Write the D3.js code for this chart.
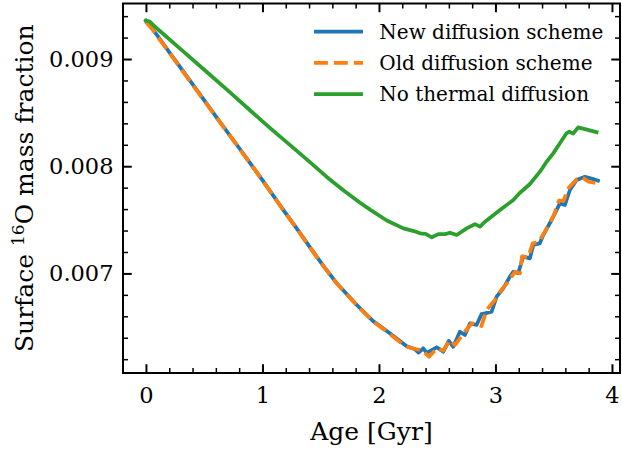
<!DOCTYPE html>
<html>
<head>
<meta charset="utf-8">
<script src="https://cdn.jsdelivr.net/npm/d3@7"></script>
<style>
  html, body { margin: 0; padding: 0; background: #fff; }
  svg { display: block; font-family: "DejaVu Serif", serif; }
</style>
</head>
<body>
<svg id="chart" width="622" height="449"></svg>
<script>
// Surface 16O mass fraction vs. stellar age for three diffusion treatments

const newAge = [0.00, 0.05, 0.20, 0.40, 0.60, 0.80, 1.00, 1.18, 1.30, 1.41, 1.52, 1.64, 1.81, 1.95,
  2.07, 2.18, 2.238, 2.31, 2.34, 2.38, 2.41, 2.496, 2.552, 2.60, 2.638, 2.695, 2.738, 2.781, 2.838,
  2.88, 2.91, 2.967, 3.01, 3.067, 3.124, 3.153, 3.195, 3.238, 3.296, 3.324, 3.38, 3.41, 3.482, 3.553,
  3.596, 3.639, 3.696, 3.768, 3.839, 3.88];
const newO16 = [0.009357, 0.009290, 0.009065, 0.008765, 0.008465, 0.008170, 0.007870, 0.007590,
  0.007410, 0.007240, 0.007075, 0.006905, 0.006705, 0.006555, 0.006460, 0.006370, 0.006320,
  0.006292, 0.006262, 0.006301, 0.006258, 0.006311, 0.006270, 0.006370, 0.006316, 0.006456,
  0.006425, 0.006534, 0.006519, 0.006620, 0.006627, 0.006643, 0.006783, 0.006861, 0.006970,
  0.007016, 0.007001, 0.007156, 0.007141, 0.007265, 0.007280, 0.007358, 0.007498, 0.007654,
  0.007638, 0.007778, 0.007871, 0.007902, 0.007880, 0.007865];

const oldAge = [0.00, 0.05, 0.20, 0.40, 0.60, 0.80, 1.00, 1.18, 1.30, 1.41, 1.52, 1.64, 1.81, 1.95,
  2.07, 2.18, 2.24, 2.31, 2.37, 2.43, 2.496, 2.552, 2.61, 2.652, 2.738, 2.795, 2.84, 2.88, 2.924,
  2.996, 3.039, 3.11, 3.167, 3.21, 3.228, 3.28, 3.32, 3.37, 3.44, 3.50, 3.545, 3.585, 3.63, 3.70,
  3.74, 3.78, 3.80, 3.87];
const oldO16 = [0.009345, 0.009285, 0.009060, 0.008760, 0.008462, 0.008168, 0.007868, 0.007588,
  0.007408, 0.007238, 0.007073, 0.006903, 0.006703, 0.006552, 0.006455, 0.006360, 0.006316,
  0.006295, 0.006282, 0.006223, 0.006301, 0.006280, 0.006379, 0.006332, 0.006456, 0.006534,
  0.006530, 0.006510, 0.006659, 0.006752, 0.006830, 0.006923, 0.007016, 0.007001, 0.007160,
  0.007150, 0.007280, 0.007290, 0.007420, 0.007540, 0.007680, 0.007680, 0.007800, 0.007880,
  0.007900, 0.007870, 0.007855, 0.007841];

const noAge = [0.00, 0.03, 0.10, 0.30, 0.50, 0.70, 0.90, 1.066, 1.25, 1.40, 1.552, 1.70, 1.838,
  1.924, 2.067, 2.21, 2.30, 2.352, 2.40, 2.453, 2.51, 2.567, 2.61, 2.667, 2.753, 2.824, 2.867,
  2.91, 3.039, 3.153, 3.21, 3.238, 3.296, 3.382, 3.439, 3.496, 3.553, 3.61, 3.633, 3.667, 3.71,
  3.868];
const noO16 = [0.009357, 0.009352, 0.009280, 0.009090, 0.008900, 0.008710, 0.008515, 0.008356,
  0.008185, 0.008045, 0.007900, 0.007772, 0.007660, 0.007595, 0.007494, 0.007420, 0.007395,
  0.007374, 0.007368, 0.007337, 0.007367, 0.007367, 0.007380, 0.007358, 0.007420, 0.007460,
  0.007436, 0.007482, 0.007591, 0.007685, 0.007753, 0.007778, 0.007834, 0.007949, 0.008042,
  0.008120, 0.008214, 0.008307, 0.008322, 0.008305, 0.008362, 0.008318];

const seriesLabels = ["New diffusion scheme", "Old diffusion scheme", "No thermal diffusion"];
const seriesColors = ["#1f77b4", "#ff7f0e", "#2ca02c"];

const xMajor = [0, 1, 2, 3, 4];
const yMajor = [0.007, 0.008, 0.009];

// ---- layout ----
const W = 622, H = 449;
const plot = { left: 123, right: 620, top: 3.5, bottom: 373 };
const xDomain = [-0.197, 4.069];
const yDomain = [0.006071, 0.009518];

const svg = d3.select("#chart");

const x = d3.scaleLinear().domain(xDomain).range([plot.left, plot.right]);
const y = d3.scaleLinear().domain(yDomain).range([plot.bottom, plot.top]);

const xMinor = d3.range(0, 4.0001, 0.2).map(v => +v.toFixed(1))
  .filter(v => !xMajor.includes(v) && v > xDomain[0] && v < xDomain[1]);
const yMinor = d3.range(0.0060, 0.0097, 0.0002).map(v => +v.toFixed(4))
  .filter(v => !yMajor.some(m => Math.abs(m - v) < 1e-9) && v > yDomain[0] && v < yDomain[1]);

const MAJ = 8.75, MIN = 5;

// clip lines to the axes box
svg.append("defs").append("clipPath").attr("id", "clip")
  .append("rect")
  .attr("x", plot.left).attr("y", plot.top)
  .attr("width", plot.right - plot.left).attr("height", plot.bottom - plot.top);

// ---- data lines ----
const line = d3.line().x(d => x(d[0])).y(d => y(d[1]));
const series = [
  { age: newAge, val: newO16, dash: null },
  { age: oldAge, val: oldO16, dash: "13.9,6" },
  { age: noAge, val: noO16, dash: null }
];
const lines = svg.append("g").attr("clip-path", "url(#clip)");
series.forEach((s, i) => {
  lines.append("path")
    .datum(d3.zip(s.age, s.val))
    .attr("d", line)
    .attr("fill", "none")
    .attr("stroke", seriesColors[i])
    .attr("stroke-width", 3.75)
    .attr("stroke-linejoin", "round")
    .attr("stroke-linecap", s.dash ? "butt" : "square")
    .attr("stroke-dasharray", s.dash);
});

// ---- axes (ticks point inward on all four sides) ----
function styleAxis(g, width) {
  g.select(".domain").remove();
  g.selectAll(".tick line").attr("stroke", "#000").attr("stroke-width", width);
}
const fontTick = 22.5;

// bottom
const gxb = svg.append("g").attr("transform", `translate(0,${plot.bottom})`)
  .call(d3.axisBottom(x).tickValues(xMajor).tickSize(-MAJ).tickPadding(14).tickFormat(d3.format("d")));
styleAxis(gxb, 2);
gxb.selectAll("text").attr("font-size", fontTick).attr("fill", "#000")
  .attr("font-family", "DejaVu Serif, serif");
svg.append("g").attr("transform", `translate(0,${plot.bottom})`)
  .call(d3.axisBottom(x).tickValues(xMinor).tickSize(-MIN).tickFormat(""))
  .call(g => styleAxis(g, 1.5));

// top
svg.append("g").attr("transform", `translate(0,${plot.top})`)
  .call(d3.axisTop(x).tickValues(xMajor).tickSize(-MAJ).tickFormat(""))
  .call(g => styleAxis(g, 2));
svg.append("g").attr("transform", `translate(0,${plot.top})`)
  .call(d3.axisTop(x).tickValues(xMinor).tickSize(-MIN).tickFormat(""))
  .call(g => styleAxis(g, 1.5));

// left
const gyl = svg.append("g").attr("transform", `translate(${plot.left},0)`)
  .call(d3.axisLeft(y).tickValues(yMajor).tickSize(-MAJ).tickPadding(9.5).tickFormat(d3.format(".3f")));
styleAxis(gyl, 2);
gyl.selectAll("text").attr("font-size", fontTick).attr("fill", "#000")
  .attr("font-family", "DejaVu Serif, serif");
svg.append("g").attr("transform", `translate(${plot.left},0)`)
  .call(d3.axisLeft(y).tickValues(yMinor).tickSize(-MIN).tickFormat(""))
  .call(g => styleAxis(g, 1.5));

// right
svg.append("g").attr("transform", `translate(${plot.right},0)`)
  .call(d3.axisRight(y).tickValues(yMajor).tickSize(-MAJ).tickFormat(""))
  .call(g => styleAxis(g, 2));
svg.append("g").attr("transform", `translate(${plot.right},0)`)
  .call(d3.axisRight(y).tickValues(yMinor).tickSize(-MIN).tickFormat(""))
  .call(g => styleAxis(g, 1.5));

// frame
svg.append("rect")
  .attr("x", plot.left).attr("y", plot.top)
  .attr("width", plot.right - plot.left).attr("height", plot.bottom - plot.top)
  .attr("fill", "none").attr("stroke", "#000").attr("stroke-width", 2);

// ---- axis labels ----
svg.append("text")
  .attr("x", (plot.left + plot.right) / 2).attr("y", 440)
  .attr("text-anchor", "middle").attr("font-size", 25).attr("fill", "#000")
  .text("Age [Gyr]");

const yl = svg.append("text")
  .attr("transform", `translate(33,${(plot.top + plot.bottom) / 2}) rotate(-90)`)
  .attr("text-anchor", "middle").attr("font-size", 25).attr("fill", "#000");
yl.append("tspan").text("Surface ");
yl.append("tspan").attr("font-size", 17).attr("dy", -9).text("16");
yl.append("tspan").attr("dy", 9).text("O mass fraction");

// ---- legend ----
const legend = svg.append("g");
const legY0 = 31.7, legStep = 31.2;
seriesLabels.forEach((lab, i) => {
  const cy = legY0 + i * legStep;
  legend.append("line")
    .attr("x1", 314).attr("x2", 363).attr("y1", cy).attr("y2", cy)
    .attr("stroke", seriesColors[i]).attr("stroke-width", 3.75)
    .attr("stroke-dasharray", series[i].dash);
  legend.append("text")
    .attr("x", 379.3).attr("y", cy + 7.3)
    .attr("font-size", 20).attr("fill", "#000")
    .text(lab);
});
</script>
</body>
</html>
